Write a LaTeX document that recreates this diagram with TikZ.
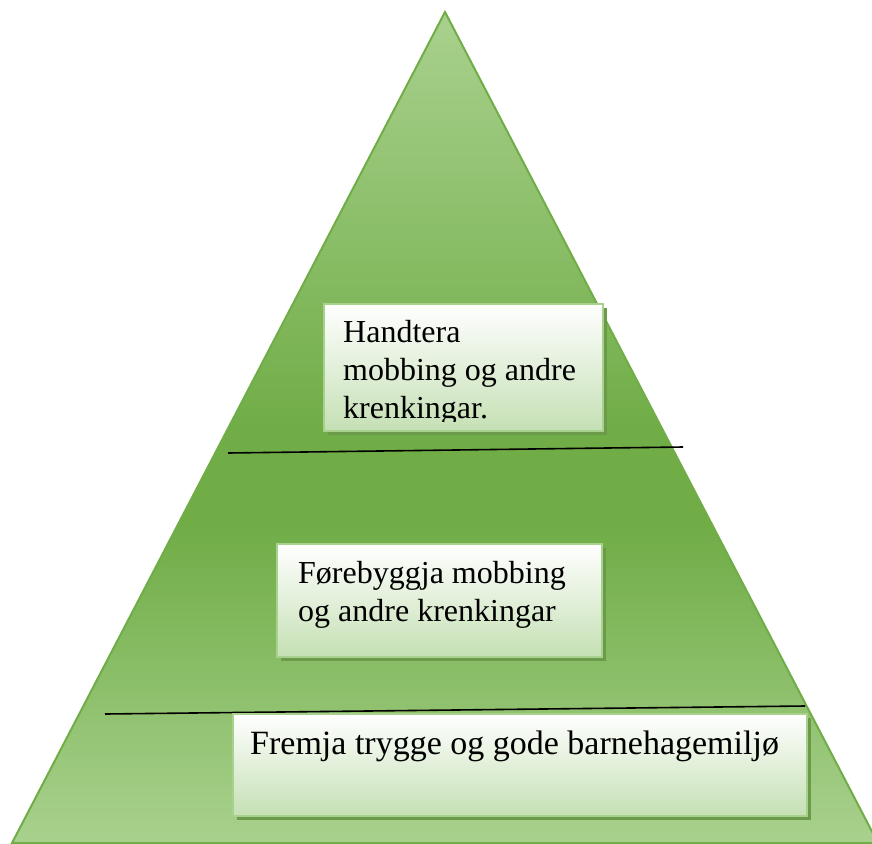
\documentclass[tikz,border=0pt]{standalone}
\usepackage{fontspec}
\setmainfont{Liberation Serif}
\usepackage{xcolor}
\definecolor{leaf}{HTML}{70AD47}
\definecolor{leaflight}{HTML}{A9D18E}
\definecolor{boxgreen}{HTML}{C5E0B4}
\definecolor{boxedge}{HTML}{A9D18E}
\definecolor{boxshadow}{HTML}{6B9A4A}
\usetikzlibrary{positioning, shadows}
% the part of a path shading that is used runs from 25bp to 75bp
\pgfdeclareverticalshading{pyramidshade}{100bp}{color(0bp)=(leaflight); color(25bp)=(leaflight); color(44bp)=(leaf); color(50bp)=(leaf); color(75bp)=(leaflight); color(100bp)=(leaflight)}

\begin{document}
\begin{tikzpicture}[
  x=1pt, y=-1pt,
  tier/.style={rectangle, draw=boxedge, line width=1.5pt, top color=white, bottom color=boxgreen, anchor=north west, inner sep=0pt, drop shadow={shadow xshift=4pt, shadow yshift=-4pt, fill=boxshadow, opacity=1}},
  tiertext/.style={inner sep=0pt, align=left, font=\fontsize{32}{38}\selectfont},
  divider/.style={draw=black, line width=1.6pt}
]
  \useasboundingbox (0,0) rectangle (872,843);
  \clip (0,0) rectangle (872,843);
  % pyramid
  \path[draw=leaf, line width=2pt, shading=pyramidshade] (445,12) -- (878,843) -- (12,843) -- cycle;

  % top level
  \node[tier, minimum width=279pt, minimum height=127pt] (handtera) at (323,303) {};
  \begin{scope}
    \clip (handtera.north west) rectangle ([yshift=10pt]handtera.south east);
    \node[tiertext, below right=17pt and 20pt of handtera.north west] (handteratext) {Handtera\\mobbing og andre\\krenkingar.};
  \end{scope}
  \draw[divider] (228,453) -- (683,447);

  % middle level
  \node[tier, minimum width=325pt, minimum height=113pt] (forebyggja) at (276,543) {};
  \node[tiertext, below right=18pt and 22pt of forebyggja.north west] (forebyggjatext) {Førebyggja mobbing\\og andre krenkingar};
  \draw[divider] (105,714) -- (805,706);

  % bottom level
  \node[tier, minimum width=574pt, minimum height=102pt] (fremja) at (232,713) {};
  \node[tiertext, font=\fontsize{34}{40}\selectfont, below right=18pt and 18pt of fremja.north west] (fremjatext) {Fremja trygge og gode barnehagemiljø};
\end{tikzpicture}
\end{document}
